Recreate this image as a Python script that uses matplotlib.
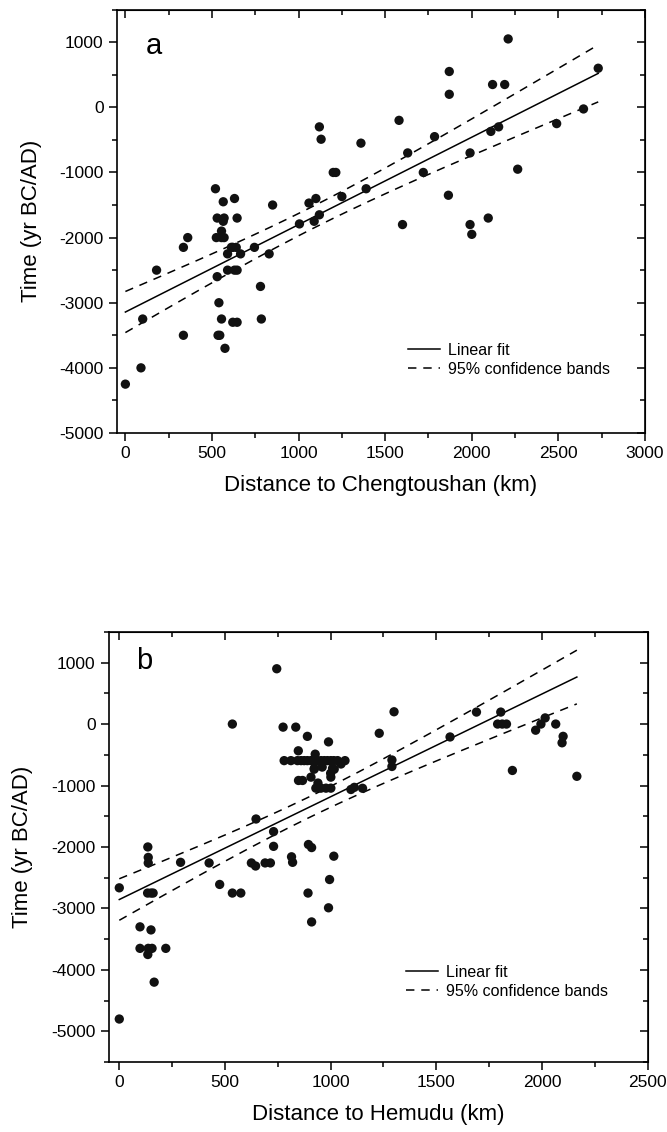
import numpy as np
import matplotlib
matplotlib.use('Agg')
import matplotlib.pyplot as plt
from matplotlib.ticker import MultipleLocator

plt.rcParams['font.family'] = ['Liberation Sans', 'DejaVu Sans']
plt.rcParams['axes.unicode_minus'] = False

# Panel a: distance to Chengtoushan (km) vs. time (yr BC/AD)
a_dist = [0, 90, 100, 180, 335, 360, 335, 520, 565, 630, 530, 570, 565, 645, 850,
          555, 525, 555, 570, 612, 640, 620, 590, 665, 745, 830, 530, 590, 630, 645,
          780, 540, 555, 785, 620, 645, 535, 545, 575, 1005, 1060, 1100, 1090, 1120,
          1200, 1215, 1250, 1390, 1120, 1130, 1360, 1580, 1600, 1630, 1720, 1785,
          1865, 1870, 1870, 1990, 1990, 2000, 2095, 2110, 2155, 2120, 2190, 2210,
          2265, 2490, 2645, 2730]
a_time = [-4250, -4000, -3250, -2500, -2150, -2000, -3500, -1250, -1450, -1400, -1700,
          -1700, -1750, -1700, -1500, -1900, -2000, -2000, -2000, -2150, -2150, -2150,
          -2250, -2250, -2150, -2250, -2600, -2500, -2500, -2500, -2750, -3000, -3250,
          -3250, -3300, -3300, -3500, -3500, -3700, -1790, -1470, -1400, -1750, -1650,
          -1000, -1000, -1370, -1250, -300, -490, -550, -200, -1800, -700, -1000, -450,
          -1350, 550, 200, -700, -1800, -1950, -1700, -370, -300, 350, 350, 1050,
          -950, -250, -25, 600]

# Panel b: distance to Hemudu (km) vs. time (yr BC/AD)
b_dist = [0, 0, 98, 98, 135, 137, 137, 134, 150, 160, 150, 137, 155, 135, 220, 165,
          290, 425, 475, 535, 535, 575, 625, 645, 647, 690, 715, 730, 730, 745, 775,
          835, 815, 820, 890, 990, 895, 910, 893, 910, 995, 990, 1015,
          780, 812, 843, 875, 907, 938, 970, 1001, 1033, 1068, 847, 927, 922, 1017,
          1049, 923, 1009, 848, 867, 907, 1001, 930, 954, 978, 1001, 1096, 1151, 1112,
          860, 890, 920, 955, 985, 1015, 960, 1000, 940,
          1230, 1300, 1290, 1290, 1565, 1690, 1805, 1790, 1812, 1832, 1860, 1970,
          1995, 2015, 2065, 2100, 2095, 2165]
b_time = [-2665, -4800, -3300, -3650, -2000, -2170, -2260, -2750, -2750, -2750, -3350,
          -3650, -3650, -3750, -3650, -4200, -2250, -2260, -2610, 0, -2750, -2750,
          -2260, -2310, -1545, -2260, -2260, -1750, -1990, 900, -50, -50, -2160, -2250,
          -200, -290, -1960, -2010, -2750, -3220, -2530, -2990, -2150,
          -595, -595, -595, -595, -595, -595, -595, -595, -595, -595, -435, -490, -735,
          -735, -650, -720, -720, -918, -918, -864, -864, -1043, -1043, -1043, -1043,
          -1065, -1045, -1030,
          -595, -595, -595, -595, -595, -595, -700, -800, -960,
          -150, 200, -585, -690, -210, 195, 195, 0, 0, 0, -755, -100, 0, 100, 0, -200,
          -305, -850]

T95 = 1.99  # two-sided t quantile, ~n-2 dof


def fit_with_bands(x, y):
    x = np.asarray(x, float)
    y = np.asarray(y, float)
    n = len(x)
    slope, icept = np.polyfit(x, y, 1)
    resid = y - (icept + slope * x)
    s = np.sqrt(np.sum(resid ** 2) / (n - 2))
    xm = x.mean()
    sxx = np.sum((x - xm) ** 2)
    xg = np.linspace(x.min(), x.max(), 200)
    yg = icept + slope * xg
    half = T95 * s * np.sqrt(1.0 / n + (xg - xm) ** 2 / sxx)
    return xg, yg, yg - half, yg + half


def style_axes(ax, xlim, ylim, xmajor):
    ax.set_xlim(xlim)
    ax.set_ylim(ylim)
    ax.xaxis.set_major_locator(MultipleLocator(xmajor))
    ax.xaxis.set_minor_locator(MultipleLocator(xmajor / 2))
    ax.yaxis.set_major_locator(MultipleLocator(1000))
    ax.yaxis.set_minor_locator(MultipleLocator(500))
    ax.tick_params(which='major', direction='out', length=6, width=1.1, labelsize=12.5)
    ax.tick_params(which='minor', direction='out', length=3.5, width=1.1)
    for sp in ax.spines.values():
        sp.set_linewidth(1.2)
    # inward ticks on top and right, no labels
    top = ax.secondary_xaxis('top')
    top.xaxis.set_major_locator(MultipleLocator(xmajor))
    top.xaxis.set_minor_locator(MultipleLocator(xmajor / 2))
    top.tick_params(which='major', direction='in', length=6, width=1.1, labeltop=False)
    top.tick_params(which='minor', direction='in', length=3.5, width=1.1)
    right = ax.secondary_yaxis('right')
    right.yaxis.set_major_locator(MultipleLocator(1000))
    right.yaxis.set_minor_locator(MultipleLocator(500))
    right.tick_params(which='major', direction='in', length=6, width=1.1, labelright=False)
    right.tick_params(which='minor', direction='in', length=3.5, width=1.1)


def draw_panel(ax, x, y, letter, xlabel, xlim, ylim, letter_pos, leg_anchor, ypad):
    ax.scatter(x, y, s=45, color='#111111', edgecolors='none', zorder=3)
    xg, yg, lo, hi = fit_with_bands(x, y)
    ax.plot(xg, yg, color='black', lw=1.1, label='Linear fit')
    ax.plot(xg, hi, color='black', lw=1.1, ls=(0, (5.5, 4.5)), label='95% confidence bands')
    ax.plot(xg, lo, color='black', lw=1.1, ls=(0, (5.5, 4.5)))
    style_axes(ax, xlim, ylim, 500)
    ax.set_xlabel(xlabel, fontsize=16, labelpad=10)
    ax.set_ylabel('Time (yr BC/AD)', fontsize=16, labelpad=ypad)
    ax.text(letter_pos[0], letter_pos[1], letter, transform=ax.transAxes,
            fontsize=21, va='center', ha='left')
    ax.legend(loc='center left', bbox_to_anchor=leg_anchor, frameon=False,
              fontsize=11.5, handlelength=2.0, handletextpad=0.5, labelspacing=0.25,
              borderaxespad=0)


fig = plt.figure(figsize=(6.67, 11.32), dpi=100)
ax_a = fig.add_axes([0.175, 0.6175, 0.792, 0.374])
ax_b = fig.add_axes([0.163, 0.0618, 0.808, 0.380])

draw_panel(ax_a, a_dist, a_time, 'a', 'Distance to Chengtoushan (km)',
           (-50, 3000), (-5000, 1500), (0.055, 0.913), (0.54, 0.173), 12)
draw_panel(ax_b, b_dist, b_time, 'b', 'Distance to Hemudu (km)',
           (-50, 2500), (-5500, 1500), (0.05, 0.933), (0.54, 0.186), 13)

fig.savefig('out.png', dpi=100)
